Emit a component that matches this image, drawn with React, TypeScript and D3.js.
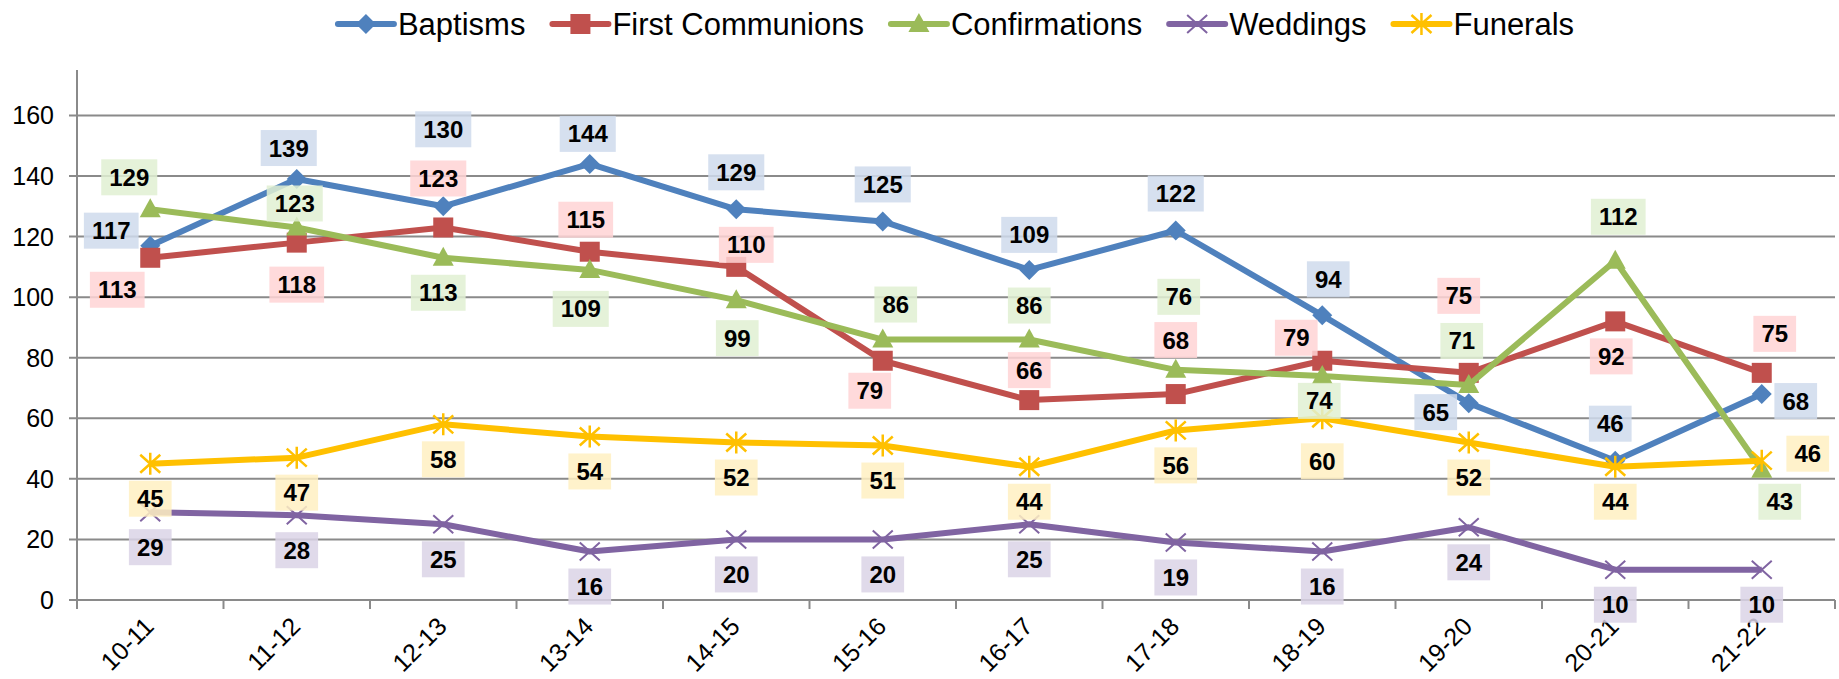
import React, { useEffect, useRef } from 'react';
import * as d3 from 'd3';

// seasons on the x axis
const seasons = ['10-11', '11-12', '12-13', '13-14', '14-15', '15-16', '16-17', '17-18', '18-19', '19-20', '20-21', '21-22'];

// yearly counts per sacrament
const baptisms = [117, 139, 130, 144, 129, 125, 109, 122, 94, 65, 46, 68];
const firstCommunions = [113, 118, 123, 115, 110, 79, 66, 68, 79, 75, 92, 75];
const confirmations = [129, 123, 113, 109, 99, 86, 86, 76, 74, 71, 112, 43];
const weddings = [29, 28, 25, 16, 20, 20, 25, 19, 16, 24, 10, 10];
const funerals = [45, 47, 58, 54, 52, 51, 44, 56, 60, 52, 44, 46];

const yTicks = [0, 20, 40, 60, 80, 100, 120, 140, 160];

// where each data label sits relative to its point (px), as placed in the original
const baptismLabelPos = [[-39, -15], [-8, -31], [0, -77], [-2, -30], [0, -37], [0, -37], [0, -35], [0, -37], [6, -36], [-33, 9], [-5, -37], [34, 7]];
const communionLabelPos = [[-33, 32], [0, 42], [-5, -49], [-4, -32], [10, -22], [-13, 30], [0, -30], [0, -54], [-26, -23], [-10, -77], [-4, 35], [13, -39]];
const confirmationLabelPos = [[-21, -32], [-2, -24], [-5, 35], [-9, 39], [1, 38], [13, -35], [0, -34], [3, -73], [-3, 25], [-7, -44], [3, -44], [18, 32]];
const weddingLabelPos = seasons.map(() => [0, 35]);
const funeralLabelPos = [[0, 35], [0, 35], [0, 35], [0, 35], [0, 35], [0, 35], [0, 35], [0, 35], [0, 43], [0, 35], [0, 35], [46, -7]];

const series = [
  { name: 'Baptisms', values: baptisms, color: '#4f81bd', box: '#cfdbec', marker: 'diamond', labels: baptismLabelPos },
  { name: 'First Communions', values: firstCommunions, color: '#c0504d', box: '#ffd3d5', marker: 'square', labels: communionLabelPos },
  { name: 'Confirmations', values: confirmations, color: '#9bbb59', box: '#e1f0d2', marker: 'triangle', labels: confirmationLabelPos },
  { name: 'Weddings', values: weddings, color: '#8064a2', box: '#dbd3e6', marker: 'x', labels: weddingLabelPos },
  { name: 'Funerals', values: funerals, color: '#ffc000', box: '#fff0c2', marker: 'star', labels: funeralLabelPos },
];

const W = 1839;
const H = 679;
const FONT = '"Liberation Sans", Arial, sans-serif';

function drawMarker(g: any, type: string, color: string) {
  if (type === 'diamond') {
    g.append('path').attr('d', 'M0,-10L10,0L0,10L-10,0Z').attr('fill', color);
  } else if (type === 'square') {
    g.append('rect').attr('x', -10).attr('y', -10).attr('width', 20).attr('height', 20).attr('fill', color);
  } else if (type === 'triangle') {
    g.append('path').attr('d', 'M0,-11L10.5,8L-10.5,8Z').attr('fill', color);
  } else if (type === 'x') {
    g.append('path').attr('d', 'M-10,-9L10,9M-10,9L10,-9').attr('stroke', color).attr('stroke-width', 2).attr('fill', 'none');
  } else {
    g.append('path').attr('d', 'M-10,-9L10,9M-10,9L10,-9M0,-11L0,11').attr('stroke', color).attr('stroke-width', 2.5).attr('fill', 'none');
  }
}

const App = () => {
  const ref = useRef<SVGSVGElement>(null);

  useEffect(() => {
    const svg = d3.select(ref.current);
    svg.selectAll('*').remove();

    const left = 77, right = 1835, top = 70, bottom = 600;

    const x = d3.scaleBand().domain(seasons).range([left, right]);
    const y = d3.scaleLinear().domain([0, 175]).range([bottom, top]);
    const cx = (s: string) => (x(s) as number) + x.bandwidth() / 2;

    // gridlines + y ticks
    svg.append('g').selectAll('line').data(yTicks).enter().append('line')
      .attr('x1', left - 8).attr('x2', right)
      .attr('y1', d => y(d)).attr('y2', d => y(d))
      .attr('stroke', '#8a8a8a').attr('stroke-width', 2);

    svg.append('g').selectAll('text').data(yTicks).enter().append('text')
      .attr('x', left - 23).attr('y', d => y(d))
      .attr('text-anchor', 'end').attr('dominant-baseline', 'central')
      .style('font-family', FONT).style('font-size', '25px').attr('fill', '#000')
      .text(d => d);

    // axes
    svg.append('line').attr('x1', left).attr('x2', left).attr('y1', top).attr('y2', bottom)
      .attr('stroke', '#8a8a8a').attr('stroke-width', 2);
    const xTickPos = seasons.map(s => x(s) as number).concat([right]);
    svg.append('g').selectAll('line').data(xTickPos).enter().append('line')
      .attr('x1', d => d).attr('x2', d => d).attr('y1', bottom).attr('y2', bottom + 9)
      .attr('stroke', '#8a8a8a').attr('stroke-width', 2);

    svg.append('g').selectAll('text').data(seasons).enter().append('text')
      .attr('transform', d => `translate(${cx(d) + 5},628) rotate(-45)`)
      .attr('text-anchor', 'end')
      .style('font-family', FONT).style('font-size', '25px').attr('fill', '#000')
      .text(d => d);

    // lines and markers
    const line = d3.line<number>().x((d, i) => cx(seasons[i])).y(d => y(d));
    series.forEach(s => {
      svg.append('path').datum(s.values).attr('d', line)
        .attr('fill', 'none').attr('stroke', s.color).attr('stroke-width', 6)
        .attr('stroke-linejoin', 'round');
      s.values.forEach((v, i) => {
        const g = svg.append('g').attr('transform', `translate(${cx(seasons[i])},${y(v)})`);
        drawMarker(g, s.marker, s.color);
      });
    });

    // data labels (boxes first, then text on top)
    const labelLayer = svg.append('g');
    series.forEach(s => {
      s.values.forEach((v, i) => {
        const lx = cx(seasons[i]) + s.labels[i][0];
        const ly = y(v) + s.labels[i][1];
        const g = labelLayer.append('g');
        const rect = g.append('rect').attr('fill', s.box).attr('fill-opacity', 0.85);
        const t = g.append('text')
          .attr('x', lx).attr('y', ly)
          .attr('text-anchor', 'middle').attr('dominant-baseline', 'central')
          .style('font-family', FONT).style('font-size', '24px').style('font-weight', 'bold')
          .attr('fill', '#000').text(v);
        const tw = (t.node() as SVGTextElement).getComputedTextLength();
        rect.attr('x', lx - tw / 2 - 8).attr('y', ly - 18).attr('width', tw + 16).attr('height', 36);
      });
    });

    // legend, centred over the plot
    const legend = svg.append('g');
    const items: any[] = [];
    let pos = 0;
    series.forEach(s => {
      const g = legend.append('g');
      g.append('line').attr('x1', 0).attr('x2', 56).attr('y1', 0).attr('y2', 0)
        .attr('stroke', s.color).attr('stroke-width', 6).attr('stroke-linecap', 'round');
      const mg = g.append('g').attr('transform', 'translate(28,0)');
      drawMarker(mg, s.marker, s.color);
      const t = g.append('text').attr('x', 60).attr('y', 0).attr('dominant-baseline', 'central')
        .style('font-family', FONT).style('font-size', '31px').attr('fill', '#000').text(s.name);
      const tw = (t.node() as SVGTextElement).getComputedTextLength();
      items.push({ g, start: pos });
      pos += 60 + tw + 27;
    });
    const total = pos - 27;
    const startX = (left + right) / 2 - total / 2;
    items.forEach(it => it.g.attr('transform', `translate(${startX + it.start},24)`));
  }, []);

  return (
    <svg ref={ref} width={W} height={H}
      style={{ position: 'absolute', left: 0, top: 0, background: '#fff', display: 'block' }} />
  );
};

export default App;
